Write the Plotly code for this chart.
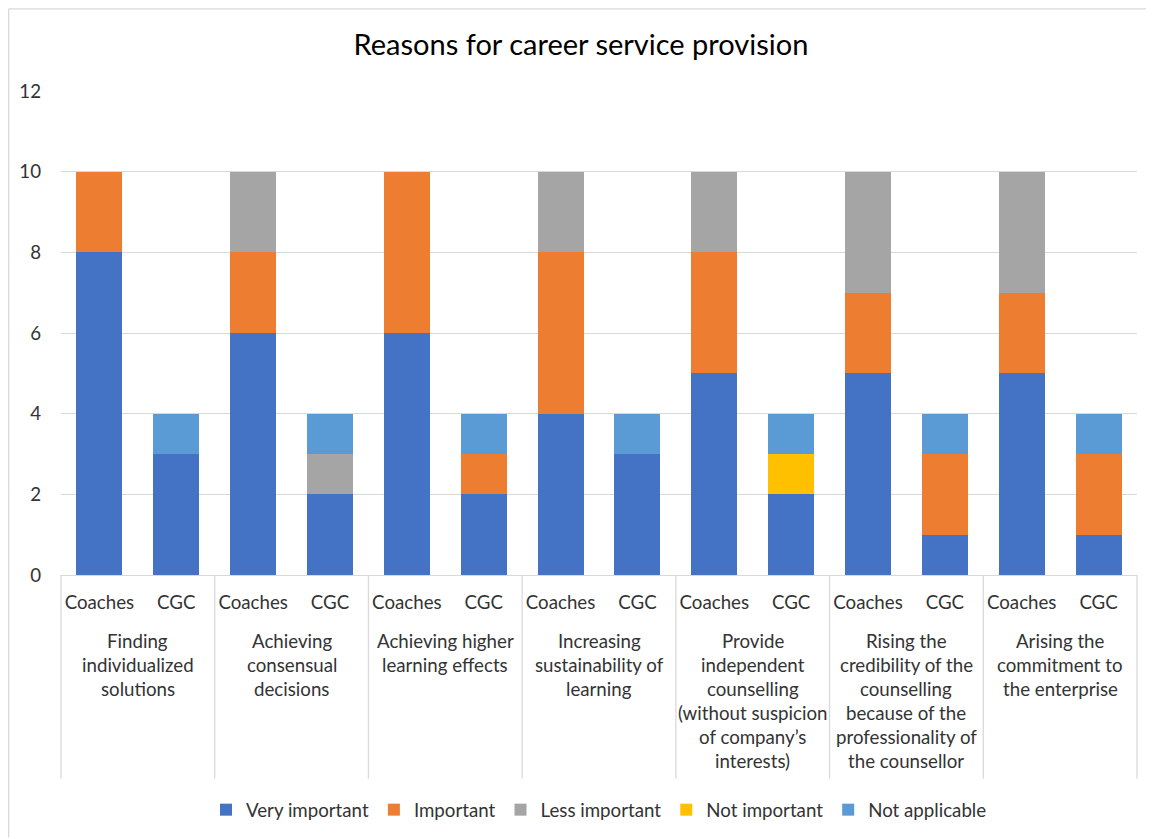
import plotly.graph_objects as go

# ---------------- data ----------------
groups = [
    ["Finding", "individualized", "solutions"],
    ["Achieving", "consensual", "decisions"],
    ["Achieving higher", "learning effects"],
    ["Increasing", "sustainability of", "learning"],
    ["Provide", "independent", "counselling", "(without suspicion", "of company\u2019s", "interests)"],
    ["Rising the", "credibility of the", "counselling", "because of the", "professionality of", "the counsellor"],
    ["Arising the", "commitment to", "the enterprise"],
]
subcats = ["Coaches", "CGC"]

# values per bar, order: G1 Coaches, G1 CGC, G2 Coaches, G2 CGC, ...
very_important = [8, 3, 6, 2, 6, 2, 4, 3, 5, 2, 5, 1, 5, 1]
important      = [2, 0, 2, 0, 4, 1, 4, 0, 3, 0, 2, 2, 2, 2]
less_important = [0, 0, 2, 1, 0, 0, 2, 0, 2, 0, 3, 0, 3, 0]
not_important  = [0, 0, 0, 0, 0, 0, 0, 0, 0, 1, 0, 0, 0, 0]
not_applicable = [0, 1, 0, 1, 0, 1, 0, 1, 0, 1, 0, 1, 0, 1]

series_names = ["Very important", "Important", "Less important", "Not important", "Not applicable"]
series_values = [very_important, important, less_important, not_important, not_applicable]
series_colors = ["#4472C4", "#ED7D31", "#A5A5A5", "#FFC000", "#5B9BD5"]

y_ticks = [0, 2, 4, 6, 8, 10, 12]
title_text = "Reasons for career service provision"

# ---------------- layout geometry ----------------
OFF = 8                      # page body margin of the browser
W, H = 1154 - OFF, 839 - OFF  # figure size
# reference pixel positions (page coords) converted to figure coords
L, R, T, B = 61 - OFF, 1137 - OFF, 91 - OFF, 576 - OFF
PW, PH = R - L, B - T
FONT = "Lato"
FS = 18.7
TXT = "#333333"

def py(pix):
    """reference page pixel y -> paper y"""
    return (B - (pix - OFF)) / PH

def px(pix):
    return ((pix - OFF) - L) / PW

n_groups = len(groups)
n_bars = n_groups * len(subcats)
xpos = list(range(n_bars))
xlabels = [subcats[i % len(subcats)] for i in range(n_bars)]

fig = go.Figure()
for name, vals, col in zip(series_names, series_values, series_colors):
    fig.add_trace(go.Bar(
        x=xpos, y=vals, name=name, marker=dict(color=col, line=dict(width=0)),
        width=0.6,
    ))

annotations = []
for gi, lines in enumerate(groups):
    cx = (gi + 0.5) / n_groups
    for li, line in enumerate(lines):
        annotations.append(dict(
            text=line, xref="paper", yref="paper", x=cx, y=py(642 + 24 * li),
            xanchor="center", yanchor="middle", showarrow=False,
            font=dict(family=FONT, size=FS, color=TXT),
        ))

shapes = []
for gi in range(n_groups + 1):
    shapes.append(dict(
        type="line", xref="paper", yref="paper", x0=gi / n_groups, x1=gi / n_groups,
        y0=0, y1=py(780), line=dict(color="#D9D9D9", width=1.3),
    ))
# chart frame (left and top edges)
fx, fy = px(OFF + 0.7), py(OFF + 0.7)
shapes.append(dict(type="line", xref="paper", yref="paper", x0=fx, x1=fx,
                   y0=py(839), y1=fy, line=dict(color="#D9D9D9", width=1.3)))
shapes.append(dict(type="line", xref="paper", yref="paper", x0=fx, x1=px(1154),
                   y0=fy, y1=fy, line=dict(color="#D9D9D9", width=1.3)))

fig.update_layout(
    width=W, height=H,
    margin=dict(l=L, r=W - R, t=T, b=H - B, pad=0),
    paper_bgcolor="white", plot_bgcolor="white",
    barmode="stack", bargap=0.4,
    font=dict(family=FONT, size=FS, color=TXT),
    title=dict(text=title_text, x=0.5, xanchor="center", y=1 - (45 - OFF) / H, yanchor="middle",
               font=dict(family=FONT, size=29, color="#000000")),
    xaxis=dict(
        tickmode="array", tickvals=xpos, ticktext=xlabels,
        range=[-0.5, n_bars - 0.5], showgrid=False, zeroline=False,
        showline=True, linecolor="#D9D9D9", linewidth=1.3,
        ticks="", ticklabelstandoff=10,
        tickfont=dict(family=FONT, size=FS, color=TXT),
    ),
    yaxis=dict(
        range=[0, 12], tickmode="array", tickvals=y_ticks,
        showgrid=True, gridcolor="#D9D9D9", gridwidth=1.3,
        zeroline=False, showline=False, ticks="", ticklabelstandoff=19,
        tickfont=dict(family=FONT, size=FS, color=TXT),
    ),
    legend=dict(
        orientation="h", x=0.5, xanchor="center", y=py(810), yanchor="middle",
        font=dict(family=FONT, size=FS, color=TXT), itemwidth=30,
        traceorder="normal",
    ),
    annotations=annotations, shapes=shapes,
    showlegend=True,
)

fig.write_html("out.html")
